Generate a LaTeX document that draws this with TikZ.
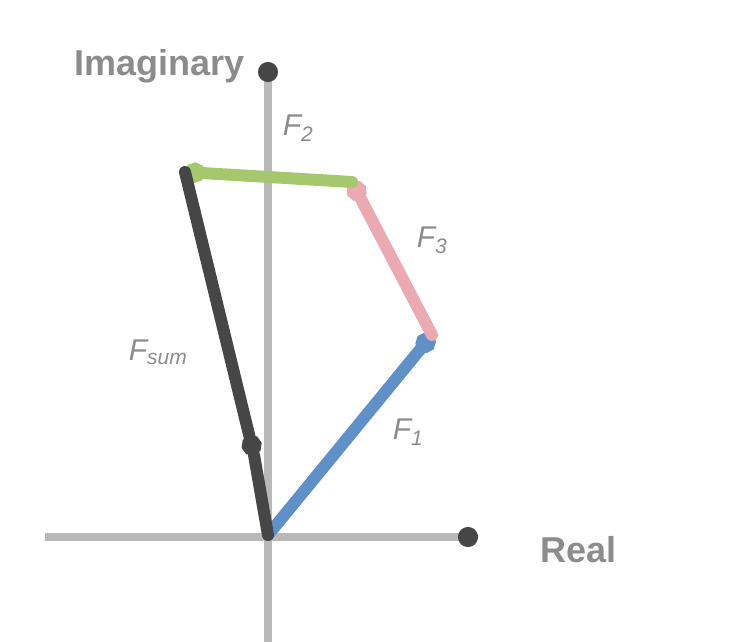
\documentclass[tikz,border=0pt]{standalone}
\usepackage{fontspec}
\setmainfont{Liberation Sans}
\usetikzlibrary{arrows.meta}
\definecolor{axgray}{RGB}{185,185,185}
\definecolor{txtgray}{RGB}{140,140,140}
\definecolor{vgreen}{RGB}{165,200,110}
\definecolor{vred}{RGB}{235,170,178}
\definecolor{vblue}{RGB}{95,145,200}
\definecolor{vblack}{RGB}{70,70,70}
\tikzset{
  axisline/.style={draw=axgray, line width=8pt, -{Circle[length=20pt,fill=vblack,color=vblack]}},
  vec/.style={line width=12pt, line cap=round, -{Circle[length=20pt]}},
  axlabel/.style={text=txtgray, font=\fontsize{36}{40}\selectfont\bfseries, inner sep=0pt},
  veclabel/.style={text=txtgray, font=\fontsize{30}{34}\selectfont\itshape, inner sep=0pt},
}
\begin{document}
\begin{tikzpicture}[x=1pt,y=-1pt]
\useasboundingbox (0,0) rectangle (742,642);
\coordinate (O) at (268,535);
\coordinate (xl) at (45,537);
\coordinate (xr) at (478,537);
\coordinate (yb) at (268,642);
\coordinate (yt) at (268,62);
\coordinate (A) at (432,335);
\coordinate (B) at (352,182);
\coordinate (C) at (185,172);
\coordinate (D) at (254,455);
\draw[axisline] (xl) -- (xr);
\draw[axisline] (yb) -- (yt);
\draw[vec, draw=vblue, fill=vblue] (O) -- (A);
\draw[vec, draw=vred, fill=vred] (A) -- (B);
\draw[vec, draw=vgreen, fill=vgreen] (B) -- (C);
\draw[line width=12pt, draw=vblack, line cap=round] (D) -- (O);
\draw[vec, draw=vblack, fill=vblack] (C) -- (D);
\node[axlabel, anchor=east] (imlab) at (245,66) {Imaginary};
\node[axlabel, anchor=west] (relab) at (540,550) {Real};
\node[veclabel] (f2) at (298,128) {F\textsubscript{2}};
\node[veclabel] (f3) at (432,240) {F\textsubscript{3}};
\node[veclabel] (f1) at (408,432) {F\textsubscript{1}};
\node[veclabel] (fs) at (158,352) {F\textsubscript{sum}};
\end{tikzpicture}
\end{document}
